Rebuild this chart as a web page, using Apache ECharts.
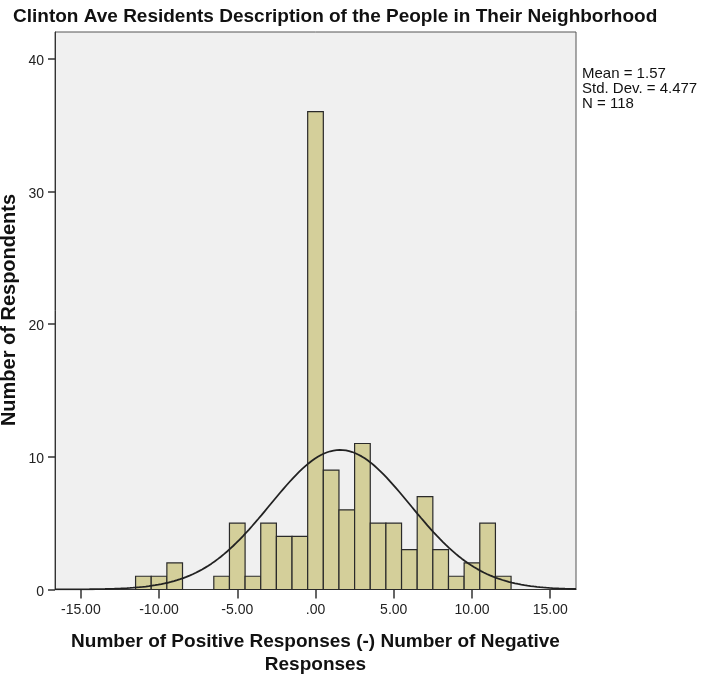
<!DOCTYPE html>
<html>
<head>
<meta charset="utf-8">
<script src="https://cdn.jsdelivr.net/npm/echarts@6/dist/echarts.min.js"></script>
<style>
  html, body { margin: 0; padding: 0; background: #ffffff; }
  #chart { width: 702px; height: 675px; }
</style>
</head>
<body>
<div id="chart"></div>
<script>
// Score bins (positive minus negative responses) and respondent counts
const binValues = [-11, -10, -9, -6, -5, -4, -3, -2, -1, 0, 1, 2, 3, 4, 5, 6, 7, 8, 9, 10, 11, 12];
const binCounts = [1, 1, 2, 1, 5, 1, 5, 4, 4, 36, 9, 6, 11, 5, 5, 3, 7, 3, 1, 2, 5, 1];

// Summary statistics shown beside the plot
const statMean = 1.57;
const statStdDev = 4.477;
const statN = 118;

// Axis tick values
const xTicks = [-15, -10, -5, 0, 5, 10, 15];
const yTicks = [0, 10, 20, 30, 40];

const X_MIN = -16.65, X_MAX = 16.65;

// Fitted normal curve scaled to the histogram (bin width 1)
const curve = [];
for (let i = 0; i <= 333; i++) {
  const x = X_MIN + i * 0.1;
  const z = (x - statMean) / statStdDev;
  const y = statN * Math.exp(-0.5 * z * z) / (statStdDev * Math.sqrt(2 * Math.PI));
  curve.push([x, y]);
}

const font = '"Liberation Sans", Arial, sans-serif';
const chart = echarts.init(document.getElementById('chart'), null, { renderer: 'canvas' });

chart.setOption({
  animation: false,
  backgroundColor: '#ffffff',
  textStyle: { fontFamily: font },
  title: {
    text: 'Clinton Ave Residents Description of the People in Their Neighborhood',
    left: 8,
    top: 2,
    textStyle: { fontFamily: font, fontSize: 19, fontWeight: 'bold', color: '#111' }
  },
  grid: {
    left: 55, right: 126, top: 32, bottom: 85.5,
    outerBoundsMode: 'none',
    containLabel: false,
    show: true,
    backgroundColor: '#f0f0f0',
    borderColor: '#555',
    borderWidth: 1
  },
  xAxis: {
    type: 'value',
    min: X_MIN,
    max: X_MAX,
    name: 'Number of Positive Responses (-) Number of Negative\nResponses',
    nameLocation: 'middle',
    nameGap: 41,
    nameTextStyle: { fontFamily: font, fontSize: 19, fontWeight: 'bold', color: '#111', lineHeight: 23 },
    axisLine: { show: true, onZero: false, lineStyle: { color: '#333', width: 1 } },
    axisTick: { show: true, length: 9, lineStyle: { color: '#333', width: 1.5 }, customValues: xTicks },
    axisLabel: {
      customValues: xTicks,
      margin: 14,
      fontSize: 14,
      color: '#222',
      formatter: v => (v === 0 ? '.00' : v.toFixed(2))
    },
    splitLine: { show: false }
  },
  yAxis: {
    type: 'value',
    min: 0,
    max: 42,
    axisLine: { show: true, onZero: false, lineStyle: { color: '#333', width: 1 } },
    axisTick: { show: true, length: 7, lineStyle: { color: '#333', width: 1.5 }, customValues: yTicks },
    axisLabel: {
      customValues: yTicks,
      margin: 11,
      formatter: v => '{n|' + v + '}',
      rich: { n: { fontSize: 14, color: '#222', fontFamily: font, padding: [5, 0, 0, 0] } }
    },
    splitLine: { show: false }
  },
  graphic: [
    {
      // y-axis title, rotated
      type: 'text',
      x: 9,
      y: 310,
      rotation: Math.PI / 2,
      style: {
        text: 'Number of Respondents',
        font: 'bold 20px ' + font,
        fill: '#111',
        align: 'center',
        verticalAlign: 'middle'
      }
    },
    {
      type: 'text',
      left: 582,
      top: 66,
      style: {
        text: 'Mean = ' + statMean.toFixed(2) + '\nStd. Dev. = ' + statStdDev.toFixed(3) + '\nN = ' + statN,
        font: '15px ' + font,
        lineHeight: 15,
        fill: '#111'
      }
    }
  ],
  series: [
    {
      type: 'custom',
      data: binValues.map((v, i) => [v, binCounts[i]]),
      renderItem: function (params, api) {
        const x = api.value(0), y = api.value(1);
        const p0 = api.coord([x - 0.5, y]);
        const p1 = api.coord([x + 0.5, 0]);
        return {
          type: 'rect',
          shape: { x: p0[0], y: p0[1], width: p1[0] - p0[0], height: p1[1] - p0[1] },
          style: { fill: '#d4cf9a', stroke: '#2a2a2a', lineWidth: 1.2 }
        };
      },
      z: 2
    },
    {
      type: 'line',
      data: curve,
      showSymbol: false,
      symbol: 'none',
      lineStyle: { color: '#222', width: 1.8 },
      z: 3
    }
  ]
});
</script>
</body>
</html>
